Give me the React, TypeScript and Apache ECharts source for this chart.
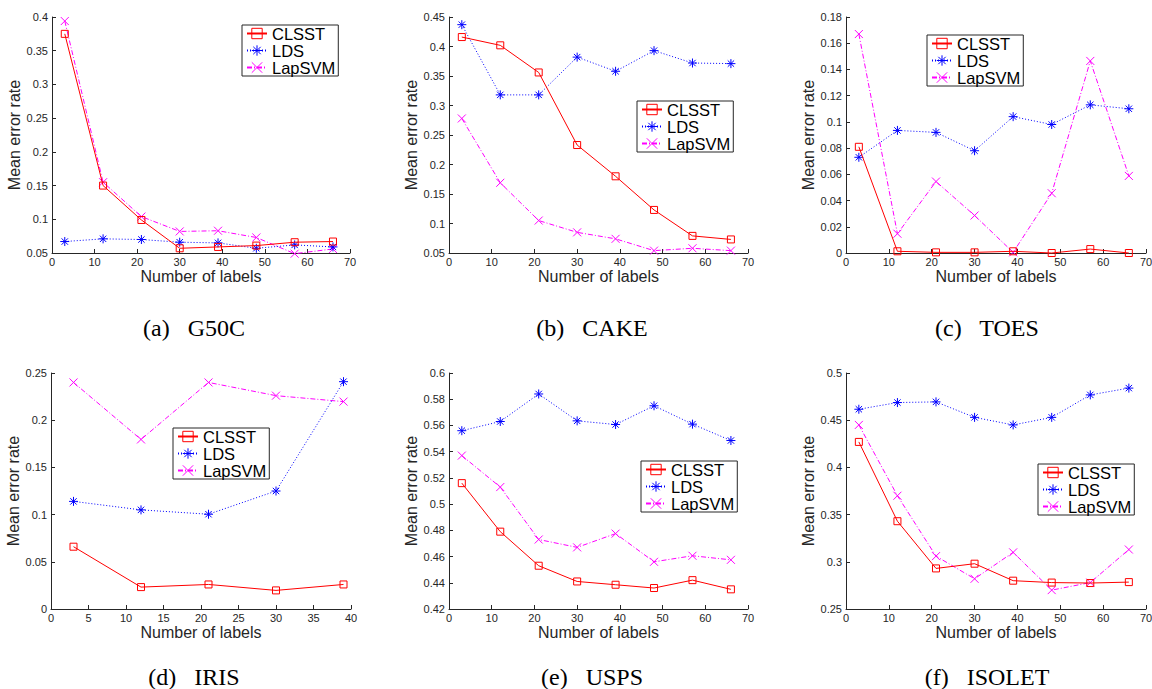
import React, { useEffect, useRef } from "react";
import * as echarts from "echarts";

// ---------- data ----------
const xLabels = [3, 12, 21, 30, 39, 48, 57, 66];
const xLabelsIris = [3, 12, 21, 30, 39];
const seriesNames = ["CLSST", "LDS", "LapSVM"];

const g50cCLSST = [0.375, 0.15, 0.099, 0.057, 0.059, 0.061, 0.066, 0.067];
const g50cLDS = [0.067, 0.071, 0.07, 0.066, 0.065, 0.057, 0.062, 0.059];
const g50cLapSVM = [0.394, 0.155, 0.104, 0.082, 0.083, 0.073, 0.049, 0.056];

const cakeCLSST = [0.416, 0.402, 0.356, 0.233, 0.18, 0.123, 0.079, 0.073];
const cakeLDS = [0.437, 0.318, 0.318, 0.382, 0.358, 0.393, 0.372, 0.371];
const cakeLapSVM = [0.278, 0.169, 0.105, 0.085, 0.074, 0.054, 0.058, 0.054];

const toesCLSST = [0.081, 0.0013, 0.0005, 0.0005, 0.0013, 0.0, 0.003, 0.0];
const toesLDS = [0.073, 0.0935, 0.092, 0.078, 0.104, 0.098, 0.113, 0.11];
const toesLapSVM = [0.167, 0.0147, 0.0545, 0.0286, 0.0005, 0.0456, 0.1465, 0.0588];

const irisCLSST = [0.066, 0.0232, 0.026, 0.0197, 0.026];
const irisLDS = [0.114, 0.105, 0.1004, 0.125, 0.2408];
const irisLapSVM = [0.24, 0.1796, 0.24, 0.226, 0.2197];

const uspsCLSST = [0.516, 0.479, 0.453, 0.441, 0.4385, 0.436, 0.442, 0.435];
const uspsLDS = [0.556, 0.563, 0.584, 0.5635, 0.5607, 0.575, 0.561, 0.5485];
const uspsLapSVM = [0.537, 0.513, 0.473, 0.467, 0.4775, 0.456, 0.4606, 0.4575];

const isoletCLSST = [0.427, 0.343, 0.293, 0.298, 0.28, 0.278, 0.2775, 0.2785];
const isoletLDS = [0.4616, 0.4687, 0.4694, 0.453, 0.445, 0.453, 0.4768, 0.484];
const isoletLapSVM = [0.445, 0.37, 0.306, 0.282, 0.31, 0.27, 0.278, 0.313];

const captions = ["(a)\u2002 G50C", "(b)\u2002 CAKE", "(c)\u2002 TOES", "(d)\u2002 IRIS", "(e)\u2002 USPS", "(f)\u2002 ISOLET"];

// axis ranges
const xMaxes = [70, 70, 70, 40, 70, 70];
const xIntervals = [10, 10, 10, 5, 10, 10];
const yMins = [0.05, 0.05, 0, 0, 0.42, 0.25];
const yMaxes = [0.4, 0.45, 0.18, 0.25, 0.6, 0.5];
const yIntervals = [0.05, 0.05, 0.02, 0.05, 0.02, 0.05];

const panelX = [xLabels, xLabels, xLabels, xLabelsIris, xLabels, xLabels];
const panelValues = [
  [g50cCLSST, g50cLDS, g50cLapSVM],
  [cakeCLSST, cakeLDS, cakeLapSVM],
  [toesCLSST, toesLDS, toesLapSVM],
  [irisCLSST, irisLDS, irisLapSVM],
  [uspsCLSST, uspsLDS, uspsLapSVM],
  [isoletCLSST, isoletLDS, isoletLapSVM],
];

// ---------- layout & style ----------
const grids = [
  { left: 52, top: 17, width: 298, height: 236 },
  { left: 449, top: 17, width: 299, height: 236 },
  { left: 846, top: 17, width: 300, height: 236 },
  { left: 51, top: 373, width: 300, height: 236 },
  { left: 449, top: 373, width: 299, height: 236 },
  { left: 846, top: 373, width: 300, height: 236 },
];
const legendPos = [
  { left: 242, top: 25 },
  { left: 637, top: 101 },
  { left: 927, top: 35 },
  { left: 173, top: 428 },
  { left: 641, top: 461 },
  { left: 1038, top: 464 },
];
const captionPos = [
  { x: 194, y: 328 },
  { x: 592, y: 328 },
  { x: 987, y: 328 },
  { x: 194, y: 677 },
  { x: 592, y: 677 },
  { x: 987, y: 677 },
];

const FONT = "'Liberation Sans', Arial, Helvetica, sans-serif";
const SERIF = "'Liberation Serif', 'Times New Roman', serif";
const AX = "#262626";

const ASTERISK = "path://M5 0L5 10M0 5L10 5M1.46 1.46L8.54 8.54M8.54 1.46L1.46 8.54";
const CROSS = "path://M0 0L10 10M10 0L0 10";

const seriesStyles = [
  { color: "#ff0000", dash: "solid" as any, symbol: "rect", size: 7 },
  { color: "#0000ff", dash: [1, 2], symbol: ASTERISK, size: 9 },
  { color: "#ff00ff", dash: [5, 2, 1, 2], symbol: CROSS, size: 8 },
];

function buildOption() {
  const xAxis: any[] = [];
  const yAxis: any[] = [];
  const series: any[] = [];
  const legend: any[] = [];
  const graphic: any[] = [];

  grids.forEach((_, i) => {
    xAxis.push({
      type: "value",
      gridIndex: i,
      min: 0,
      max: xMaxes[i],
      interval: xIntervals[i],
      name: "Number of labels",
      nameLocation: "middle",
      nameGap: 15,
      nameTextStyle: { fontFamily: FONT, fontSize: 16, color: AX },
      axisLine: { show: true, onZero: false, lineStyle: { color: AX, width: 1 } },
      axisTick: { show: true, inside: true, length: 4, lineStyle: { color: AX, width: 1 } },
      axisLabel: { show: true, fontFamily: FONT, fontSize: 11, color: AX, margin: 3, showMinLabel: true, showMaxLabel: true },
      splitLine: { show: false },
    });
    yAxis.push({
      type: "value",
      gridIndex: i,
      min: yMins[i],
      max: yMaxes[i],
      interval: yIntervals[i],
      name: "Mean error rate",
      nameLocation: "middle",
      nameGap: 27,
      nameTextStyle: { fontFamily: FONT, fontSize: 16, color: AX },
      axisLine: { show: true, onZero: false, lineStyle: { color: AX, width: 1 } },
      axisTick: { show: true, inside: true, length: 4, lineStyle: { color: AX, width: 1 } },
      axisLabel: { show: true, fontFamily: FONT, fontSize: 11, color: AX, margin: 4, showMinLabel: true, showMaxLabel: true },
      splitLine: { show: false },
    });
    panelValues[i].forEach((vals, k) => {
      const st = seriesStyles[k];
      series.push({
        type: "line",
        name: seriesNames[k],
        xAxisIndex: i,
        yAxisIndex: i,
        data: vals.map((v, j) => [panelX[i][j], v]),
        symbol: st.symbol,
        symbolSize: st.size,
        showSymbol: true,
        clip: false,
        lineStyle: { color: st.color, width: 1, type: st.dash },
        itemStyle: { color: "rgba(0,0,0,0)", borderColor: st.color, borderWidth: 1 },
        emphasis: { disabled: true },
        z: 5 - k,
      });
    });
    legend.push({
      orient: "vertical",
      left: legendPos[i].left,
      top: legendPos[i].top,
      itemWidth: 20,
      itemHeight: 13,
      itemGap: 0,
      padding: [0, 3, 0, 4],
      borderColor: AX,
      borderWidth: 1,
      backgroundColor: "#fff",
      selectedMode: false,
      itemStyle: { borderWidth: 1 },
      textStyle: { fontFamily: FONT, fontSize: 16.5, color: "#000", lineHeight: 17 },
      data: seriesNames,
    });
    graphic.push({
      type: "text",
      x: captionPos[i].x,
      y: captionPos[i].y,
      style: {
        text: captions[i],
        fontFamily: SERIF,
        fontSize: 24,
        fill: "#000",
        align: "center",
        verticalAlign: "middle",
      },
    });
  });

  return {
    animation: false,
    backgroundColor: "#fff",
    grid: grids.map((g) => ({ ...g, containLabel: false, outerBoundsMode: "none" })),
    xAxis,
    yAxis,
    series,
    legend,
    graphic,
    tooltip: { show: false },
  };
}

export default function App() {
  const ref = useRef<HTMLDivElement>(null);
  useEffect(() => {
    if (!ref.current) return;
    const chart = echarts.init(ref.current, null, { renderer: "svg" });
    chart.setOption(buildOption() as any);
    return () => chart.dispose();
  }, []);
  return (
    <div
      ref={ref}
      style={{ position: "absolute", left: 0, top: 0, width: 1152, height: 689, background: "#fff" }}
    />
  );
}
